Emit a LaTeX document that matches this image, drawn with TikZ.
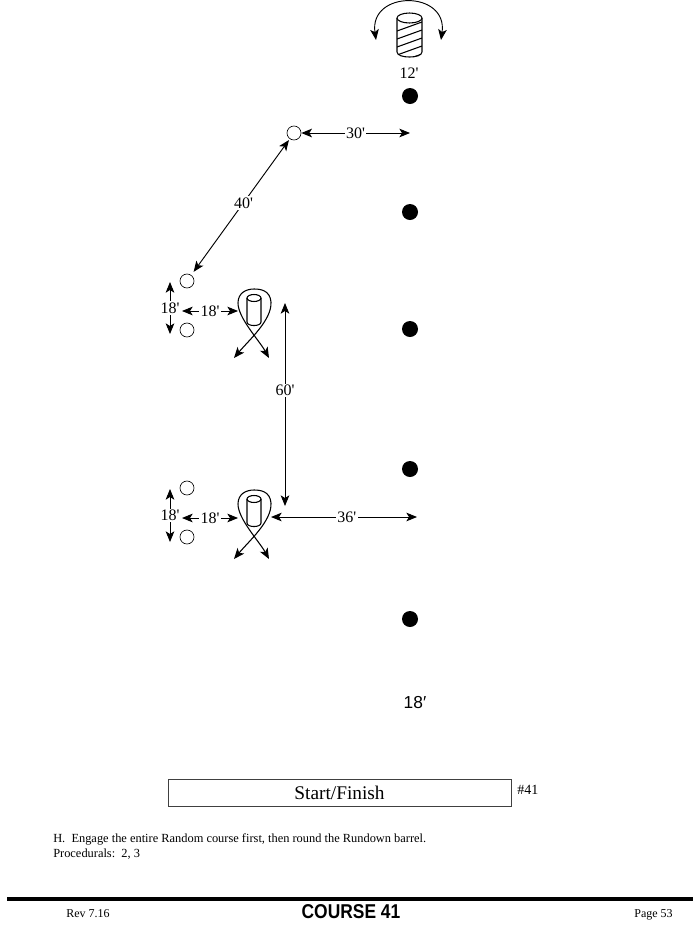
\documentclass[tikz,border=0pt]{standalone}
\usepackage{fontspec}
\setmainfont{Liberation Serif}
\newfontfamily\headfont{Liberation Sans}
\usetikzlibrary{arrows.meta, calc, positioning}

\newcommand\ft{\textquotesingle}

\tikzset{
    >={Stealth[length=8pt, width=6.5pt, inset=2pt]},
    dot/.style={circle, fill=black, inner sep=0pt, minimum size=12pt},
    cone/.style={circle, draw, line width=0.5pt, inner sep=0pt, minimum size=10.5pt},
    dimline/.style={<->, line width=0.7pt},
    dimlbl/.style={fill=white, inner sep=1pt, font=\fontsize{12}{12}\selectfont},
    barrelline/.style={line width=0.8pt},
    pics/loopbarrel/.style={code={
        \draw[barrelline] (-7,-12) -- (-7,12) .. controls (-7,16.7) and (7,16.7) .. (7,12) -- (7,-12);
        \draw[barrelline] (0,-12) ellipse [x radius=7, y radius=3.5];
        \draw[barrelline, <->] (-20,48) .. controls (-5,30) and (18,10) .. (17,-8)
            .. controls (16,-20) and (6,-21) .. (0,-21)
            .. controls (-8,-21) and (-16,-17) .. (-16,-7)
            .. controls (-16,8) and (5,30) .. (15,48);
    }}
}

\begin{document}
\begin{tikzpicture}[x=0.75pt, y=-0.75pt]
    \useasboundingbox (0,0) rectangle (700,929);

    % rundown barrel
    \begin{scope}
        \clip (397,18) -- (397,52) .. controls (397,58.7) and (422,58.7) .. (422,52) -- (422,18) -- cycle;
        \foreach \s in {31,39,47,55,63}
            \draw[line width=0.8pt] (397,\s) -- (422,\s-9);
    \end{scope}
    \draw[barrelline] (397,18) -- (397,52) .. controls (397,58.7) and (422,58.7) .. (422,52) -- (422,18);
    \draw[barrelline, fill=white] (409.5,18) ellipse [x radius=12.5, y radius=5];
    \coordinate (arcl) at (376,40);
    \coordinate (arcr) at (441,40);
    \draw[dimline] (arcl) .. controls (369,-10) and (448,-10) .. (arcr);
    \node[font=\fontsize{12}{12}\selectfont] (l12) at (409,73) {12\ft};

    % course markers
    \node[dot] (d1) at (410,96) {};
    \node[dot] (d2) at (410,212) {};
    \node[dot] (d3) at (410,329) {};
    \node[dot] (d4) at (410,469) {};
    \node[dot] (d5) at (410,619) {};
    \node[font=\headfont\fontsize{13}{13}\selectfont] (l18) at (415,703) {18′};

    % random course
    \node[cone] (c0) at (294,133) {};
    \node[cone] (c1) at (187,281) {};
    \node[cone] (c2) at (187,330) {};
    \node[cone] (c3) at (187,488) {};
    \node[cone] (c4) at (187,537) {};
    \pic at (254,310) {loopbarrel};
    \pic at (254,511) {loopbarrel};

    \coordinate (t30) at (410,133);
    \draw[dimline] (c0) -- node[dimlbl] {30\ft} (t30);
    \draw[dimline, shorten <=1pt, shorten >=3pt] (c0) -- node[dimlbl, pos=0.47] {40\ft} (c1);

    % upper pair
    \coordinate (va) at (170,282);
    \coordinate (vb) at (170,334);
    \draw[dimline] (va) -- node[dimlbl] {18\ft} (vb);
    \coordinate (ha) at (182,311);
    \coordinate (hb) at (238,311);
    \draw[dimline] (ha) -- node[dimlbl] {18\ft} (hb);

    \coordinate (ma) at (285,303);
    \coordinate (mb) at (285,506);
    \draw[dimline] (ma) -- node[dimlbl, pos=0.43] {60\ft} (mb);

    % lower pair
    \coordinate (vc) at (170,489);
    \coordinate (vd) at (170,542);
    \draw[dimline] (vc) -- node[dimlbl] {18\ft} (vd);
    \coordinate (hc) at (182,518);
    \coordinate (hd) at (238,518);
    \draw[dimline] (hc) -- node[dimlbl] {18\ft} (hd);

    \coordinate (sa) at (271,517);
    \coordinate (sb) at (417,517);
    \draw[dimline] (sa) -- node[dimlbl, pos=0.52] {36\ft} (sb);

    % start / finish
    \node[draw=black!75, line width=0.6pt, minimum width=257.25pt, minimum height=20.25pt,
        inner sep=0pt, font=\fontsize{14.5}{15}\selectfont] (start) at (339.5,792.5) {Start/Finish};
    \node[anchor=west, inner sep=0pt, font=\fontsize{10.5}{11}\selectfont] (num) at (517,790) {\#41};

    \node[anchor=base west, inner sep=0pt, font=\fontsize{9.3}{11}\selectfont] (txt1) at (53,842)
        {H.\ \ Engage the entire Random course first, then round the Rundown barrel.};
    \node[anchor=base west, inner sep=0pt, font=\fontsize{9.3}{11}\selectfont] (txt2) at (53,857)
        {Procedurals:\ \ 2, 3};

    % footer
    \draw[line width=2.6pt] (7,899) -- (693,899);
    \node[anchor=base west, inner sep=0pt, font=\fontsize{9}{10}\selectfont] (rev) at (66,917) {Rev 7.16};
    \node[inner sep=0pt, xscale=0.87, font=\headfont\bfseries\fontsize{15}{15}\selectfont] (crs) at (351,912) {COURSE 41};
    \node[anchor=base east, inner sep=0pt, font=\fontsize{9}{10}\selectfont] (pg) at (673,917) {Page 53};
\end{tikzpicture}
\end{document}
